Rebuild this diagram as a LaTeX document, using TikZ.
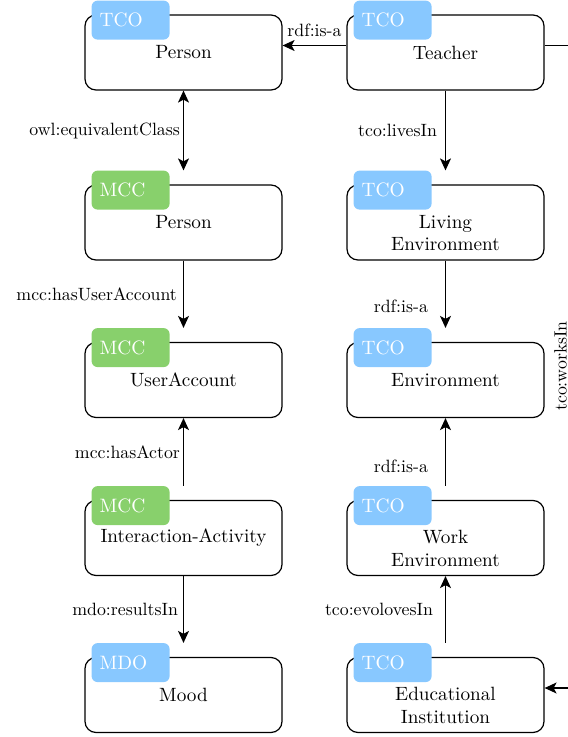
\documentclass[tikz,border=0pt]{standalone}
\usepackage{fontspec}
\setmainfont{lmroman10-regular}[Extension=.otf]
\usetikzlibrary{arrows.meta,positioning}

\definecolor{tcoblue}{RGB}{136,200,255}
\definecolor{mccgreen}{RGB}{136,208,108}

\begin{document}
\begin{tikzpicture}[x=1pt, y=-1pt,
    >={Stealth[length=12pt, width=11pt, inset=3pt]},
    box/.style={draw, line width=1.2pt, rounded corners=11pt,
      minimum width=197pt, minimum height=75pt, inner sep=0pt},
    badge/.style={fill=#1, rounded corners=6pt, anchor=north west,
      minimum height=39pt, text width=62pt, inner xsep=8pt, inner ysep=0pt,
      text=white, font=\fontsize{19.4}{22}\selectfont},
    title/.style={font=\fontsize{19.2}{22.7}\selectfont, align=center},
    edge/.style={line width=1.2pt},
    rel/.style={font=\fontsize{17.8}{21}\selectfont, inner sep=3pt}]
  \useasboundingbox (0,0) rectangle (568,737);

  % boxes
  \node [box] (personT) at (183.5, 52.5) {};
  \node [box] (teacher) at (445.5, 52.5) {};
  \node [box] (personM) at (183.5, 222.5) {};
  \node [box] (living) at (445.5, 222.5) {};
  \node [box] (account) at (183.5, 380) {};
  \node [box] (env) at (445.5, 380) {};
  \node [box] (activity) at (183.5, 538) {};
  \node [box] (work) at (445.5, 538) {};
  \node [box] (mood) at (183.5, 695) {};
  \node [box] (edu) at (445.5, 695) {};

  % ontology tags
  \node [badge=tcoblue] (personTtag) at ([xshift=7pt, yshift=14pt]personT.north west) {TCO};
  \node [badge=tcoblue] (teachertag) at ([xshift=7pt, yshift=14pt]teacher.north west) {TCO};
  \node [badge=mccgreen] (personMtag) at ([xshift=7pt, yshift=14pt]personM.north west) {MCC};
  \node [badge=tcoblue] (livingtag) at ([xshift=7pt, yshift=14pt]living.north west) {TCO};
  \node [badge=mccgreen] (accounttag) at ([xshift=7pt, yshift=14pt]account.north west) {MCC};
  \node [badge=tcoblue] (envtag) at ([xshift=7pt, yshift=14pt]env.north west) {TCO};
  \node [badge=mccgreen] (activitytag) at ([xshift=7pt, yshift=14pt]activity.north west) {MCC};
  \node [badge=tcoblue] (worktag) at ([xshift=7pt, yshift=14pt]work.north west) {TCO};
  \node [badge=tcoblue] (moodtag) at ([xshift=7pt, yshift=14pt]mood.north west) {MDO};
  \node [badge=tcoblue] (edutag) at ([xshift=7pt, yshift=14pt]edu.north west) {TCO};

  % class names
  \node [title] at (personT) {Person};
  \node [title] at (teacher) {Teacher};
  \node [title] at (personM) {Person};
  \node [title] at ([yshift=-10.5pt]living.center) {Living\\Environment};
  \node [title] at (account) {UserAccount};
  \node [title] at (env) {Environment};
  \node [title] at (activity) {Interaction-Activity};
  \node [title] at ([yshift=-10.5pt]work.center) {Work\\Environment};
  \node [title] at (mood) {Mood};
  \node [title] at ([yshift=-10.5pt]edu.center) {Educational\\Institution};

  % relations
  \draw [edge, ->] ([yshift=7pt]teacher.west) -- node [rel, above=5pt] {rdf:is-a} ([yshift=7pt]personT.east);
  \draw [edge, <->] (personT.south) -- node [rel, left] {owl:equivalentClass} ([yshift=14pt]personM.north);
  \draw [edge, ->] (personM.south) -- node [rel, left, xshift=-3pt] {mcc:hasUserAccount} ([yshift=14pt]account.north);
  \draw [edge, ->] ([yshift=14pt]activity.north) -- node [rel, left] {mcc:hasActor} (account.south);
  \draw [edge, ->] (activity.south) -- node [rel, left, xshift=-2pt] {mdo:resultsIn} ([yshift=14pt]mood.north);

  \draw [edge, ->] (teacher.south) -- node [rel, left, xshift=-5pt] {tco:livesIn} ([yshift=14pt]living.north);
  \draw [edge, ->] (living.south) -- node [rel, left, pos=0.68, xshift=-14pt] {rdf:is-a} ([yshift=14pt]env.north);
  \draw [edge, ->] ([yshift=14pt]work.north) -- node [rel, left, pos=0.29, xshift=-14pt] {rdf:is-a} (env.south);
  \draw [edge, ->] ([yshift=14pt]edu.north) -- node [rel, left, xshift=-9pt] {tco:evolovesIn} (work.south);

  \draw [edge, ->] ([yshift=7pt]teacher.east) -- ++(40,0) |- ([yshift=7pt]edu.east);
  \node [rel, rotate=90] (worksin) at (560.5, 366) {tco:worksIn};
\end{tikzpicture}
\end{document}
